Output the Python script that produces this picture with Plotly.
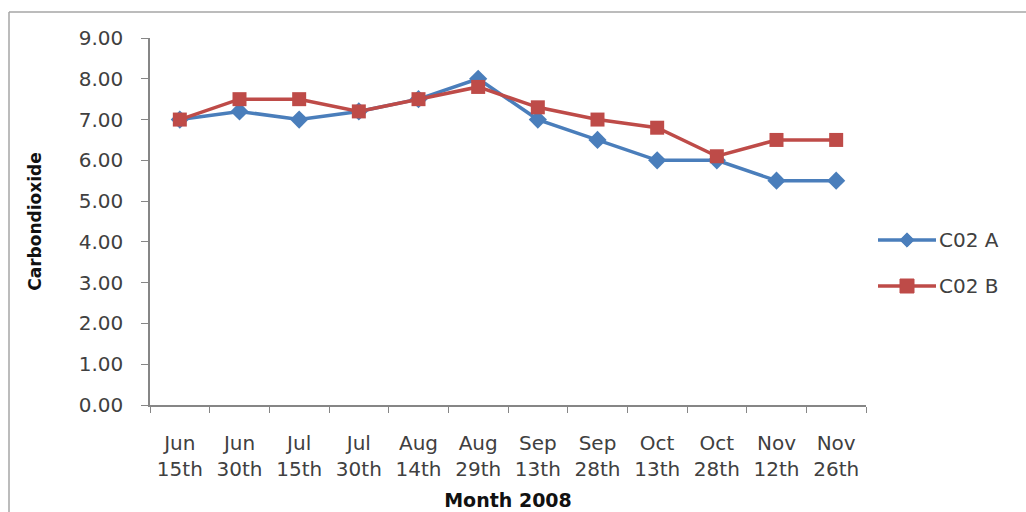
import plotly.graph_objects as go

# Sampling dates (two-line category labels) and CO2 readings for the two sites
months = ["Jun", "Jun", "Jul", "Jul", "Aug", "Aug", "Sep", "Sep", "Oct", "Oct", "Nov", "Nov"]
days = ["15th", "30th", "15th", "30th", "14th", "29th", "13th", "28th", "13th", "28th", "12th", "26th"]
co2_a = [7.0, 7.2, 7.0, 7.2, 7.5, 8.0, 7.0, 6.5, 6.0, 6.0, 5.5, 5.5]
co2_b = [7.0, 7.5, 7.5, 7.2, 7.5, 7.8, 7.3, 7.0, 6.8, 6.1, 6.5, 6.5]
y_ticks = [0, 1, 2, 3, 4, 5, 6, 7, 8, 9]

labels = [f"{m}<br>{d}" for m, d in zip(months, days)]

BLUE = "#4A7EBB"
RED = "#BE4B48"
AXIS = "#868686"
TEXT = "#404040"
FONT = "DejaVu Sans"

W, H = 1026, 512
ML, MT, MB = 150, 38, 107
PLOT_RIGHT = 866  # right edge of the data area, in pixels

fig = go.Figure()
fig.add_trace(go.Scatter(
    x=labels, y=co2_a, name="C02 A", mode="lines+markers",
    line=dict(color=BLUE, width=3.5),
    marker=dict(symbol="diamond", size=14, color=BLUE),
    showlegend=False,
))
fig.add_trace(go.Scatter(
    x=labels, y=co2_b, name="C02 B", mode="lines+markers",
    line=dict(color=RED, width=3.5),
    marker=dict(symbol="square", size=14, color=RED),
    showlegend=False,
))

# Legend keys drawn on a second, pixel-scaled axis pair spanning the full width
legend_rows = [("C02 A", BLUE, "diamond", 11, 240), ("C02 B", RED, "square", 14, 286)]
KEY_X0, KEY_X1 = 878, 936
for name, color, symbol, msize, ypix in legend_rows:
    fig.add_trace(go.Scatter(
        x=[KEY_X0, KEY_X1], y=[ypix, ypix],
        mode="lines", xaxis="x2", yaxis="y2",
        line=dict(color=color, width=3.5),
        showlegend=False, hoverinfo="skip", cliponaxis=False,
    ))
    fig.add_trace(go.Scatter(
        x=[(KEY_X0 + KEY_X1) / 2], y=[ypix],
        mode="markers", xaxis="x2", yaxis="y2",
        marker=dict(symbol=symbol, size=msize, color=color, opacity=1,
                    line=dict(width=1, color=color)),
        showlegend=False, hoverinfo="skip", cliponaxis=False,
    ))
    fig.add_annotation(
        x=KEY_X1 + 1, y=ypix, xref="x2", yref="y2", text=name,
        showarrow=False, xanchor="left", yanchor="middle",
        font=dict(size=20, color=TEXT, family=FONT),
    )

# Outer frame of the chart area (top and left edges), in paper fractions
fx = lambda px: (px - ML) / (W - ML)
fy = lambda py: (H - MB - py) / (H - MB - MT)
frame = dict(color="#A6A6A6", width=1.5)
fig.add_shape(type="line", xref="paper", yref="paper",
              x0=fx(9), x1=fx(W + 5), y0=fy(12), y1=fy(12), line=frame)
fig.add_shape(type="line", xref="paper", yref="paper",
              x0=fx(9), x1=fx(9), y0=fy(12), y1=fy(H + 5), line=frame)

plot_frac = (PLOT_RIGHT - ML) / (W - ML)

fig.update_layout(
    width=W, height=H,
    margin=dict(l=ML, r=0, t=MT, b=MB),
    paper_bgcolor="white", plot_bgcolor="rgba(0,0,0,0)",
    font=dict(family=FONT, color=TEXT),
    showlegend=False,
    xaxis=dict(
        type="category", range=[-0.5, len(labels) - 0.5], domain=[0, plot_frac],
        showline=True, linecolor=AXIS, linewidth=1.5,
        ticks="outside", tickson="boundaries", ticklen=6, tickcolor=AXIS,
        showgrid=False, zeroline=False,
        tickfont=dict(size=20, color=TEXT, family=FONT),
        ticklabelstandoff=19,
        title=dict(text="<b>Month 2008</b>", font=dict(size=19, color="#111111", family=FONT),
                   standoff=14),
    ),
    yaxis=dict(
        range=[0, 9], tickvals=y_ticks, tickformat=".2f",
        showline=True, linecolor=AXIS, linewidth=1.5,
        ticks="outside", ticklen=7, tickcolor=AXIS,
        showgrid=False, zeroline=False,
        tickfont=dict(size=20, color=TEXT, family=FONT),
        ticklabelstandoff=14,
        title=dict(text="<b>Carbondioxide</b>", font=dict(size=17, color="#111111", family=FONT),
                   standoff=33),
    ),
    # pixel-space axes for the legend keys
    xaxis2=dict(range=[ML, W], domain=[0, 1], anchor="y2",
                visible=False, fixedrange=True),
    yaxis2=dict(range=[H - MB, MT], domain=[0, 1], anchor="x2",
                visible=False, fixedrange=True),
)

fig.write_html("out.html")
